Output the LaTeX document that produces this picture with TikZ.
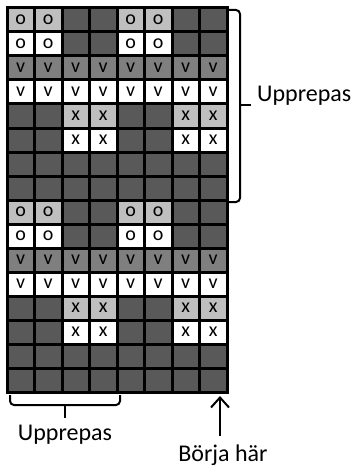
\documentclass[tikz,border=0pt]{standalone}
\usepackage{fontspec}
\setmainfont{Carlito}
\usetikzlibrary{arrows.meta}
\definecolor{cD}{HTML}{595959}
\definecolor{cM}{HTML}{7F7F7F}
\definecolor{cL}{HTML}{BFBFBF}
\definecolor{cW}{HTML}{FFFFFF}
\begin{document}
\begin{tikzpicture}[x=1pt,y=-1pt,
  cell/.style={draw=black,line width=3pt,minimum width=27.5pt,minimum height=24pt,
    inner sep=0pt,outer sep=0pt,anchor=north west,font=\fontsize{20}{20}\selectfont},
  bracepath/.style={draw=black,line width=2pt,rounded corners=4pt},
  lbl/.style={font=\fontsize{24}{24}\selectfont,inner sep=0pt}]
\useasboundingbox (0,0) rectangle (355,468);
\foreach \half in {0,1}{
 \foreach \row [count=\r from 0] in {
  {cL/o,cL/o,cD/{},cD/{},cL/o,cL/o,cD/{},cD/{}},
  {cW/o,cW/o,cD/{},cD/{},cW/o,cW/o,cD/{},cD/{}},
  {cM/v,cM/v,cM/v,cM/v,cM/v,cM/v,cM/v,cM/v},
  {cW/v,cW/v,cW/v,cW/v,cW/v,cW/v,cW/v,cW/v},
  {cD/{},cD/{},cL/x,cL/x,cD/{},cD/{},cL/x,cL/x},
  {cD/{},cD/{},cW/x,cW/x,cD/{},cD/{},cW/x,cW/x},
  {cD/{},cD/{},cD/{},cD/{},cD/{},cD/{},cD/{},cD/{}},
  {cD/{},cD/{},cD/{},cD/{},cD/{},cD/{},cD/{},cD/{}}}{
  \foreach \fc/\tx [count=\c from 0] in \row {
    \pgfmathsetmacro{\px}{7+27.5*\c}
    \pgfmathsetmacro{\py}{8+24*(\r+8*\half)}
    \node[cell,fill=\fc] (c-\half-\r-\c) at (\px,\py) {\tx};
  }
 }
}
% right brace
\draw[bracepath] (228,10) -- (240,10) -- (240,202) -- (228,202);
\draw[line width=2pt] (240,105) -- (251,105);
\node[lbl,anchor=base west] (up1) at (257,102) {Upprepas};
% bottom brace
\draw[bracepath] (10,395) -- (10,405) -- (120,405) -- (120,395);
\draw[line width=2pt] (65,405) -- (65,418);
\node[lbl,anchor=base] (up2) at (65,440) {Upprepas};
% start arrow
\node[lbl,anchor=base] (start) at (223,461) {Börja här};
\coordinate (atip) at (220,396);
\coordinate (abase) at (220,436);
\draw[line width=2pt,-{Straight Barb[length=10pt,width=18pt]}] (abase) -- (atip);
\end{tikzpicture}
\end{document}
